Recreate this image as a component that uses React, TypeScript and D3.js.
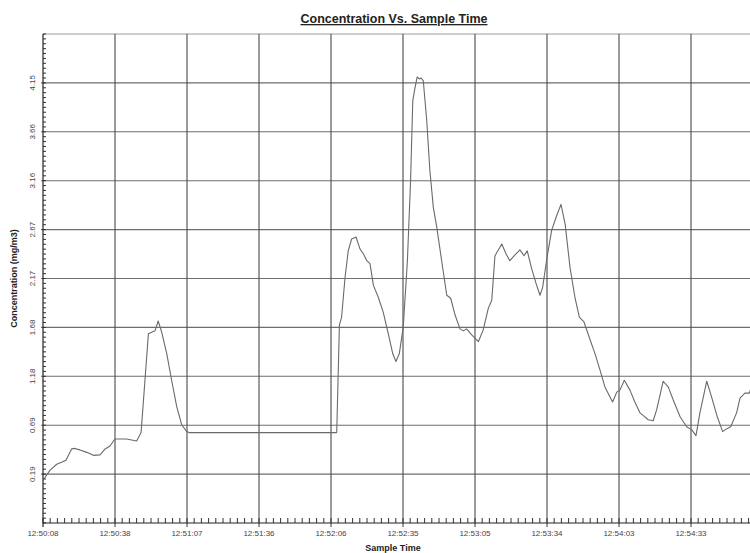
import React from "react";
import * as d3 from "d3";

// sample offsets in seconds from 12:50:08 and the concentration read at each
const sampleSec = [
  0, 1.2, 2.9, 5.6, 7.6, 9.4, 11.7, 13.1, 15.1, 17.9, 20.6, 23.3, 25.4, 27.4, 29.4,
  34.2, 38.3, 40.1, 43.1, 45.8, 47.1, 48.5, 50.6, 52.6, 54.7, 56.7, 58.8, 59.7,
  120.1, 121.2, 122.1, 123.5, 124.8, 126.2, 128.0, 129.6, 131.0, 132.4, 133.7,
  135.1, 137.1, 139.1, 141.2, 143.0, 144.3, 145.7, 147.3, 149.0, 150.3, 151.2,
  152.1, 153.0, 153.9, 154.6, 155.5, 156.9, 158.2, 159.6, 161.0, 163.0, 165.1,
  166.7, 168.5, 170.5, 171.9, 173.2, 175.3, 178.0, 180.0, 182.1, 183.5, 184.8,
  187.6, 189.3, 190.9, 193.0, 195.0, 196.7, 198.0, 199.8, 201.6, 203.2, 204.3,
  206.0, 208.0, 210.1, 211.8, 213.5, 215.5, 217.5, 219.3, 221.2, 223.7, 225.7,
  227.8, 229.8, 232.9, 234.6, 235.9, 237.7, 240.0, 242.0, 244.1, 246.1, 247.5,
  249.5, 250.9, 253.6, 255.7, 257.7, 260.5, 263.2, 265.2, 267.0, 268.6, 271.4,
  273.4, 275.7, 277.9, 279.6, 281.2, 283.6, 285.0, 287.0, 288.8, 289.9,
];
const concentration = [
  0.12, 0.17, 0.23, 0.29, 0.31, 0.33, 0.445, 0.45, 0.435, 0.41, 0.38, 0.385, 0.445, 0.475, 0.545,
  0.545, 0.525, 0.61, 1.61, 1.64, 1.74, 1.63, 1.41, 1.14, 0.87, 0.69, 0.62, 0.61,
  0.61, 1.7, 1.78, 2.18, 2.45, 2.57, 2.59, 2.47, 2.42, 2.35, 2.32,
  2.1, 1.98, 1.83, 1.61, 1.41, 1.33, 1.41, 1.68, 2.35, 3.16, 3.97,
  4.1, 4.21, 4.19, 4.2, 4.17, 3.77, 3.26, 2.89, 2.69, 2.35, 2.0,
  1.97, 1.8, 1.66, 1.64, 1.66, 1.6, 1.53, 1.65, 1.87, 1.95, 2.4,
  2.52, 2.42, 2.35, 2.41, 2.46, 2.4, 2.45, 2.27, 2.12, 2.0, 2.08,
  2.37, 2.66, 2.81, 2.92, 2.72, 2.28, 1.98, 1.78, 1.73, 1.55, 1.41,
  1.24, 1.07, 0.92, 1.02, 1.04, 1.14, 1.04, 0.92, 0.81, 0.77, 0.74,
  0.73, 0.84, 1.13, 1.07, 0.94, 0.77, 0.67, 0.64, 0.58, 0.81, 1.13,
  0.97, 0.77, 0.62, 0.65, 0.67, 0.81, 0.96, 1.01, 1.01, 1.09,
];

const xTickLabels = [
  "12:50:08", "12:50:38", "12:51:07", "12:51:36", "12:52:06",
  "12:52:35", "12:53:05", "12:53:34", "12:54:03", "12:54:33",
];
const yTicks = [0.19, 0.685, 1.18, 1.675, 2.17, 2.665, 3.16, 3.655, 4.15];
const yTickLabels = ["0.19", "0.69", "1.18", "1.68", "2.17", "2.67", "3.16", "3.66", "4.15"];

const W = 750;
const H = 553;
const left = 43;
const top = 34;
const bottom = 523;
const xStep = 29.44; // seconds between grid lines
const yStep = 0.495;

export default function App() {
  const x = d3.scaleLinear().domain([0, xStep * 10]).range([left, left + 720]);
  const y = d3.scaleLinear().domain([0.19 - yStep, 4.15 + yStep]).range([bottom, top]);

  const data = sampleSec.map((s, i) => [s, concentration[i]] as [number, number]);
  const line = d3
    .line<[number, number]>()
    .x((d) => x(d[0]))
    .y((d) => y(d[1]));

  const majorX = d3.range(0, 10).map((i) => i * xStep);
  const minorX = d3.range(0, 101).map((i) => (i * xStep) / 10);
  const minorY = d3.range(0, 101).map((i) => 0.19 - yStep + (i * yStep) / 10);

  const font = "'Liberation Sans', Arial, sans-serif";

  return (
    <svg
      width={W}
      height={H}
      style={{ position: "absolute", left: 0, top: 0, background: "#fff" }}
      fontFamily={font}
    >
      <text
        x={394}
        y={23}
        textAnchor="middle"
        fontSize={13}
        fontWeight="bold"
        textDecoration="underline"
        textLength={187}
        lengthAdjust="spacingAndGlyphs"
        fill="#222"
      >
        Concentration Vs. Sample Time
      </text>

      {/* top border */}
      <line x1={left} x2={W} y1={top} y2={top} stroke="#999" strokeWidth={1.2} />

      {/* horizontal grid */}
      {yTicks.map((v) => (
        <line key={"h" + v} x1={left - 2} x2={W} y1={y(v)} y2={y(v)} stroke="#6e6e6e" strokeWidth={1.1} />
      ))}
      {/* vertical grid */}
      {majorX.slice(1).map((s) => (
        <line key={"v" + s} x1={x(s)} x2={x(s)} y1={top} y2={bottom + 4} stroke="#4a4a4a" strokeWidth={1.1} />
      ))}

      {/* minor ticks */}
      {minorY.map((v, i) => (
        <line key={"my" + i} x1={left} x2={left + 3} y1={y(v)} y2={y(v)} stroke="#333" strokeWidth={1} />
      ))}
      {minorX.map((s, i) => (
        <line key={"mx" + i} x1={x(s)} x2={x(s)} y1={bottom} y2={bottom - 5} stroke="#333" strokeWidth={1} />
      ))}

      {/* axes */}
      <line x1={left} x2={left} y1={top} y2={bottom + 4} stroke="#222" strokeWidth={1.2} />
      <line x1={left} x2={W} y1={bottom} y2={bottom} stroke="#222" strokeWidth={1.2} />

      <path d={line(data) ?? ""} fill="none" stroke="#6a6a6a" strokeWidth={1.1} strokeLinejoin="round" />

      {/* x labels */}
      {majorX.map((s, i) => (
        <text key={"xl" + i} x={x(s)} y={536} textAnchor="middle" fontSize={8} fill="#444">
          {xTickLabels[i]}
        </text>
      ))}
      <text x={393} y={551} textAnchor="middle" fontSize={9} fontWeight="bold" fill="#222">
        Sample Time
      </text>

      {/* y labels */}
      {yTicks.map((v, i) => (
        <text
          key={"yl" + i}
          transform={`translate(35, ${y(v)}) rotate(-90)`}
          textAnchor="middle"
          fontSize={8}
          fill="#444"
        >
          {yTickLabels[i]}
        </text>
      ))}
      <text
        transform={`translate(17, ${(top + bottom) / 2}) rotate(-90)`}
        textAnchor="middle"
        fontSize={9}
        fontWeight="bold"
        fill="#222"
      >
        Concentration (mg/m3)
      </text>
    </svg>
  );
}
